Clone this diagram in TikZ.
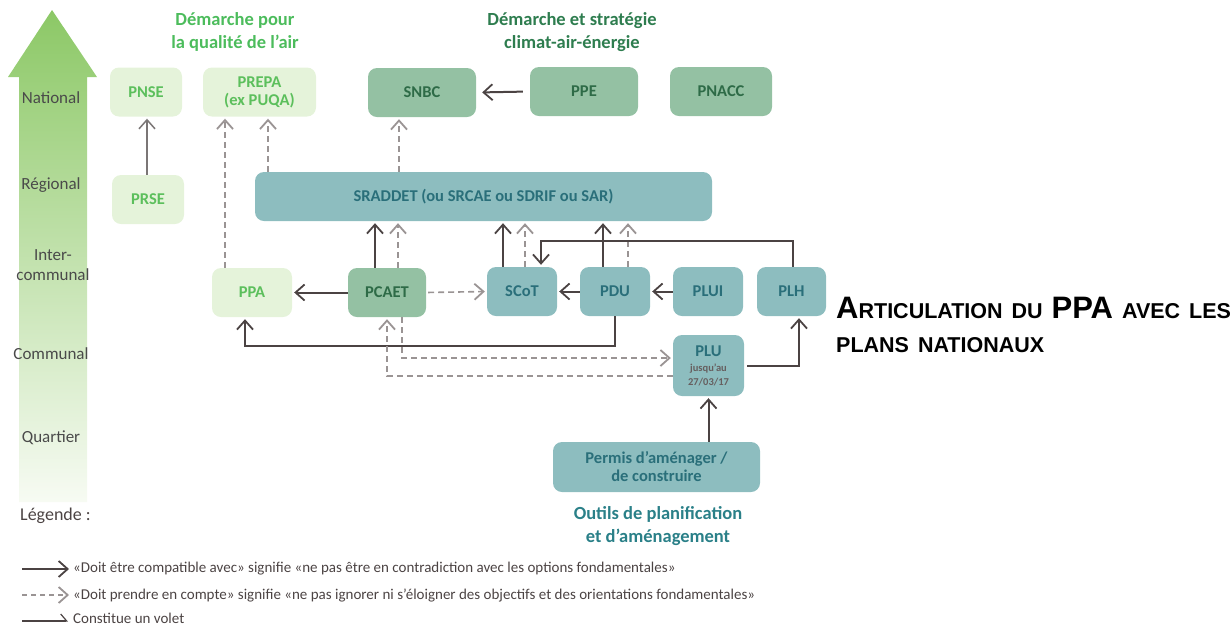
\documentclass[tikz,border=0pt]{standalone}
\usepackage{fontspec}
\setmainfont{Carlito}
\newfontfamily\titlefont[WordSpace=1.5]{Liberation Sans}
\usetikzlibrary{arrows.meta,calc}
\definecolor{lgfill}{HTML}{E5F3DA}
\definecolor{lgtext}{HTML}{5CBF5C}
\definecolor{gfill}{HTML}{94C1A3}
\definecolor{gtext}{HTML}{2E6B47}
\definecolor{tfill}{HTML}{8DBDBF}
\definecolor{ttext}{HTML}{2A6F7A}
\definecolor{darkline}{HTML}{4B4343}
\definecolor{dashline}{HTML}{9A9494}
\definecolor{levelc}{HTML}{4A4A4A}
\definecolor{hgreen}{HTML}{4CBC5C}
\definecolor{hdark}{HTML}{2E7D4F}
\definecolor{outc}{HTML}{2A8088}
\definecolor{arrtop}{HTML}{8CC866}
\definecolor{arrbot}{HTML}{F7FBF3}
\tikzset{
  box/.style={rounded corners=9pt, draw=none, align=center, font=\bfseries\fontsize{16.5}{18}\selectfont, inner sep=0pt},
  lgbox/.style={box, fill=lgfill, text=lgtext},
  gbox/.style={box, fill=gfill, text=gtext},
  tbox/.style={box, fill=tfill, text=ttext},
  tip/.style={-{Straight Barb[length=9pt,width=16pt,line width=1.8pt]}, shorten >=2pt},
  solidarr/.style={tip, draw=darkline, line width=2pt},
  dasharr/.style={tip, draw=dashline, line width=1.6pt, dash pattern=on 6pt off 4pt},
  thinarr/.style={-{Straight Barb[length=9pt,width=16pt,line width=1.5pt]}, shorten >=2pt, draw=dashline!80!black, line width=1.5pt},
  level/.style={text=levelc, font=\fontsize{17}{20}\selectfont, align=center},
  header/.style={font=\bfseries\fontsize{18.5}{23}\selectfont, align=center},
  legtext/.style={anchor=west, text=darkline, font=\fontsize{15}{17}\selectfont, inner sep=0pt}
}
\begin{document}
\begin{tikzpicture}[x=1pt,y=-1pt]
\useasboundingbox (0,0) rectangle (1232,625);
% gradient arrow
\shade[top color=arrtop, bottom color=arrbot] (19,502) -- (19,77) -- (8,77) -- (52,10) -- (97,77) -- (87,77) -- (87,502) -- cycle;
\node[level] (lnat) at (51,98) {National};
\node[level] (lreg) at (51,185) {Régional};
\node[level] (linter) at (53,265) {Inter-\\communal};
\node[level] (lcom) at (51,354) {Communal};
\node[level] (lqua) at (51,438) {Quartier};

% headers
\node[header, text=hgreen] (h1) at (235,32) {Démarche pour\\la qualité de l’air};
\node[header, text=hdark] (h2) at (572,32) {Démarche et stratégie\\climat-air-énergie};
\node[header, text=outc] (h3) at (658,526) {Outils de planification\\et d’aménagement};

% boxes
\node[lgbox, minimum width=72, minimum height=49] (pnse) at (146,92) {PNSE};
\node[lgbox, minimum width=113, minimum height=49] (prepa) at (259.5,92) {PREPA\\(ex PUQA)};
\node[lgbox, minimum width=72, minimum height=49] (prse) at (148,199.5) {PRSE};
\node[gbox, minimum width=108, minimum height=49] (snbc) at (422,92.5) {SNBC};
\node[gbox, minimum width=108, minimum height=49] (ppe) at (584,91.5) {PPE};
\node[gbox, minimum width=102, minimum height=49] (pnacc) at (721,91.5) {PNACC};
\node[tbox, minimum width=457, minimum height=49] (sraddet) at (483.5,196.5) {SRADDET (ou SRCAE ou SDRIF ou SAR)};
\node[lgbox, minimum width=80, minimum height=49] (ppa) at (252,292.5) {PPA};
\node[gbox, minimum width=78, minimum height=49] (pcaet) at (387,292.5) {PCAET};
\node[tbox, minimum width=70, minimum height=49] (scot) at (522,291.5) {SCoT};
\node[tbox, minimum width=70, minimum height=49] (pdu) at (615,291.5) {PDU};
\node[tbox, minimum width=70, minimum height=49] (plui) at (708,291.5) {PLUI};
\node[tbox, minimum width=69, minimum height=49] (plh) at (791.5,291.5) {PLH};
\node[tbox, minimum width=71, minimum height=61] (plu) at (708.5,365.5) {PLU\\[-3pt]{\color{darkline!85}\fontsize{10.5}{12}\selectfont jusqu’au}\\[-4pt]{\color{darkline!85}\fontsize{10.5}{12}\selectfont 27/03/17}};
\node[tbox, minimum width=207, minimum height=50] (permis) at (656.5,467) {Permis d’aménager /\\de construire};

% connectors
\draw[thinarr] ([xshift=-1pt]prse.north) -- ([xshift=-1pt]prse.north |- pnse.south);
\draw[dasharr] ([xshift=-27pt]ppa.north) -- ([xshift=-27pt]ppa.north |- prepa.south);
\draw[dasharr] ([xshift=8.5pt]prepa.south |- sraddet.north) -- ([xshift=8.5pt]prepa.south);
\draw[dasharr] ([xshift=-23pt]snbc.south |- sraddet.north) -- ([xshift=-23pt]snbc.south);
\draw[solidarr, shorten <=7pt, shorten >=6pt] (ppe.west) -- (snbc.east);
\draw[solidarr] ([xshift=-12pt]pcaet.north) -- ([xshift=-12pt]pcaet.north |- sraddet.south);
\draw[dasharr] ([xshift=11pt]pcaet.north) -- ([xshift=11pt]pcaet.north |- sraddet.south);
\draw[solidarr] ([xshift=-19pt]scot.north) -- ([xshift=-19pt]scot.north |- sraddet.south);
\draw[dasharr] ([xshift=3pt]scot.north) -- ([xshift=3pt]scot.north |- sraddet.south);
\draw[solidarr] ([xshift=-12pt]pdu.north) -- ([xshift=-12pt]pdu.north |- sraddet.south);
\draw[dasharr] ([xshift=13pt]pdu.north) -- ([xshift=13pt]pdu.north |- sraddet.south);
\draw[solidarr] ([xshift=1.5pt]plh.north) -- ++(0,-26) -| ([xshift=19pt]scot.north);
\draw[solidarr] (pcaet.west) -- (ppa.east);
\draw[dasharr, shorten <=2pt] (pcaet.east) -- (scot.west);
\draw[solidarr] (pdu.west) -- (scot.east);
\draw[solidarr] (plui.west) -- (pdu.east);
\draw[solidarr] (pdu.south) -- ++(0,30) -| ([xshift=-7pt]ppa.south);
\draw[dasharr] ([xshift=15pt]pcaet.south) |- ([yshift=7.5pt]plu.west);
\draw[dasharr] ([yshift=-10.5pt]plu.west) -| (pcaet.south);
\draw[solidarr, shorten <=3pt] (plu.east) -| ([xshift=7.5pt]plh.south);
\draw[solidarr] (plu.south |- permis.north) -- (plu.south);

% title
\node[anchor=base west, inner sep=0pt, font=\titlefont\bfseries] (title1) at (836,318)
  {\fontsize{31}{31}\selectfont A\fontsize{21.5}{21.5}\selectfont RTICULATION DU \fontsize{31}{31}\selectfont PPA\fontsize{21.5}{21.5}\selectfont{} AVEC LES};
\node[anchor=base west, inner sep=0pt, font=\titlefont\bfseries\fontsize{21.5}{21.5}\selectfont] (title2) at (836,352) {PLANS NATIONAUX};

% legend
\node[anchor=west, text=darkline, font=\fontsize{18}{20}\selectfont, inner sep=0pt] (leg) at (20,516) {Légende :};
\coordinate (l1a) at (22,569); \coordinate (l1b) at (69,569);
\coordinate (l2a) at (22,595); \coordinate (l2b) at (69,595);
\coordinate (l3a) at (22,621); \coordinate (l3b) at (68,621);
\draw[solidarr, line width=1.5pt, shorten >=0pt] (l1a) -- (l1b);
\draw[dasharr, line width=1.3pt, dash pattern=on 5pt off 4pt, shorten >=0pt] (l2a) -- (l2b);
\draw[-{Straight Barb[left,length=6pt,width=14pt,line width=1.2pt]}, draw=darkline, line width=1.2pt] (l3a) -- (l3b);
\node[legtext] (t1) at (73,569) {«Doit être compatible avec» signifie «ne pas être en contradiction avec les options fondamentales»};
\node[legtext] (t2) at (73,595) {«Doit prendre en compte» signifie «ne pas ignorer ni s’éloigner des objectifs et des orientations fondamentales»};
\node[legtext] (t3) at (73,618) {Constitue un volet};
\end{tikzpicture}
\end{document}
